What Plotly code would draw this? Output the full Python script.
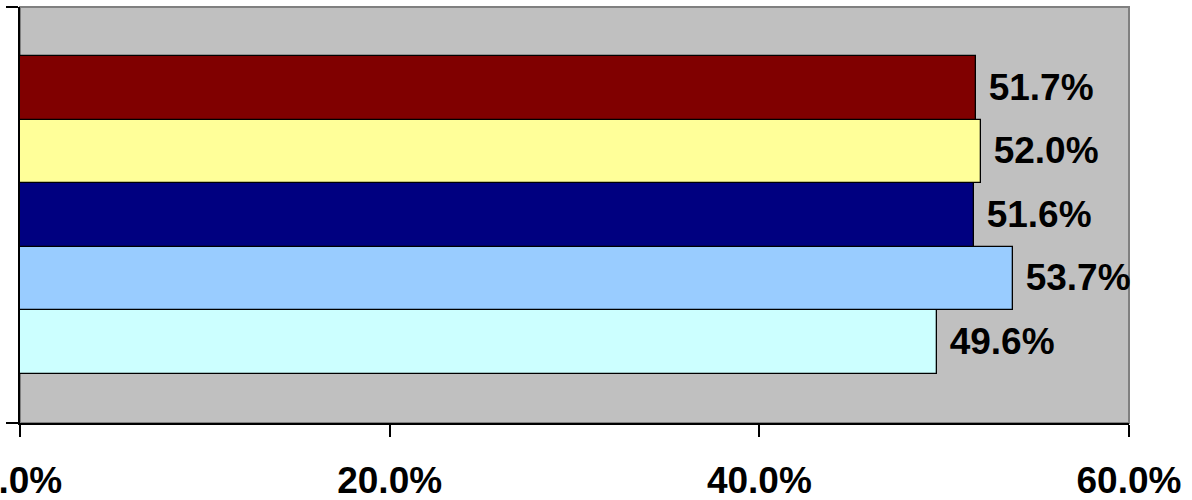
import plotly.graph_objects as go

# Data (bottom to top, as Excel series order)
series_names = ["Series 1", "Series 2", "Series 3", "Series 4", "Series 5"]
values = [49.6, 53.7, 51.6, 52.0, 51.7]
colors = ["#CCFFFF", "#99CCFF", "#000080", "#FFFF99", "#800000"]
x_tickvals = [0, 20, 40, 60]
x_ticktext = ["0.0%", "20.0%", "40.0%", "60.0%"]

positions = list(range(len(values)))
pad = 0.77
y_lo = -0.5 - pad
y_hi = len(values) - 0.5 + pad

fig = go.Figure()
fig.add_trace(go.Bar(
    x=values,
    y=positions,
    orientation="h",
    width=1.0,
    marker=dict(color=colors, line=dict(color="#000000", width=1.3)),
    text=[" %.1f%%" % v for v in values],
    textposition="outside",
    textfont=dict(family="Liberation Sans, Arial, sans-serif", size=37, color="#000000", weight="bold"),
    constraintext="none",
    cliponaxis=False,
    hovertext=series_names,
    showlegend=False,
))

fig.add_shape(type="rect", xref="paper", yref="paper", x0=0, x1=1, y0=0, y1=1,
              line=dict(color="#808080", width=2), layer="below")

fig.update_layout(
    width=1192, height=500,
    margin=dict(l=20, r=63, t=7, b=77, autoexpand=False),
    paper_bgcolor="#FFFFFF",
    plot_bgcolor="#C0C0C0",
    font=dict(family="Liberation Sans, Arial, sans-serif", color="#000000"),
    bargap=0,
)
fig.update_xaxes(
    range=[0, 60], tickvals=x_tickvals, ticktext=x_ticktext,
    automargin=False, ticklabeloverflow="allow",
    showgrid=False, zeroline=False,
    showline=True, linecolor="#000000", linewidth=2,
    ticks="outside", ticklen=12, tickwidth=2, tickcolor="#000000",
    tickfont=dict(family="Liberation Sans, Arial, sans-serif", size=37, color="#000000", weight="bold"),
    ticklabelstandoff=12,
)
fig.update_yaxes(
    range=[y_lo, y_hi], tickvals=[y_lo, y_hi], showticklabels=False,
    automargin=False,
    showgrid=False, zeroline=False,
    showline=True, linecolor="#000000", linewidth=2,
    ticks="outside", ticklen=12, tickwidth=2, tickcolor="#000000",
)

fig.write_html(
    "out.html",
    config={"displayModeBar": False},
    post_script="document.body.style.margin='0';document.body.style.overflow='hidden';",
)
